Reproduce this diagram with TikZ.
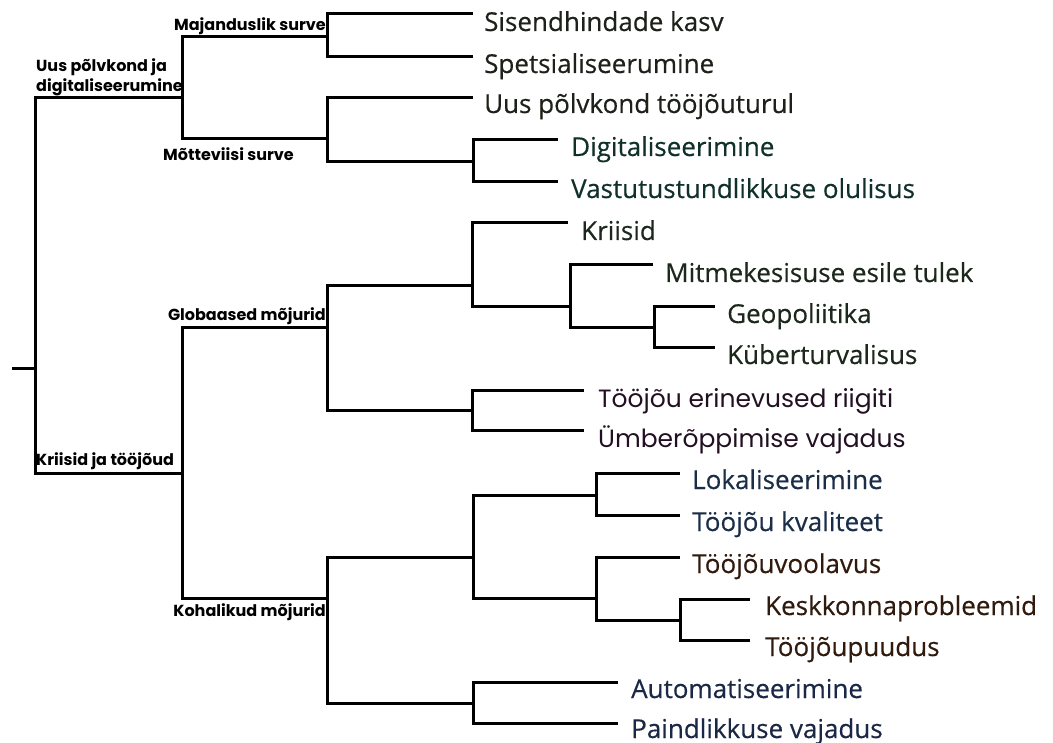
\documentclass[tikz,border=0pt]{standalone}
\usepackage{fontspec}
\setmainfont{Open Sans}[FakeBold=0.4]
\newfontfamily\geofont{Poppins}
\usetikzlibrary{positioning}
\definecolor{leafdark}{RGB}{30,33,25}
\definecolor{digteal}{RGB}{16,48,42}
\definecolor{crisisgreen}{RGB}{28,40,28}
\definecolor{workpurple}{RGB}{34,16,34}
\definecolor{localblue}{RGB}{26,46,72}
\definecolor{envbrown}{RGB}{48,26,14}
\definecolor{autonavy}{RGB}{26,40,70}
\begin{document}
\begin{tikzpicture}[
        x=1pt, y=-1pt,
        branch/.style={draw=black, line width=3pt, line join=miter},
        leaf/.style={font=\fontsize{26}{28}\selectfont, inner sep=1pt, text=#1},
        leaf/.default=leafdark,
        geoleaf/.style={leaf=#1, font=\geofont\fontsize{25}{28}\selectfont},
        lab/.style={font=\geofont\bfseries\fontsize{16}{20}\selectfont, inner sep=1pt, align=left}
    ]
        \useasboundingbox (0,0) rectangle (1053,743);

        % junctions
        \coordinate (stub) at (12,369);
        \coordinate (root) at (35,369);
        \coordinate (j-uus) at (182,98);
        \coordinate (j-maj) at (327,37);
        \coordinate (j-mot) at (327,139);
        \coordinate (j-dig) at (473,162);
        \coordinate (j-kr) at (182,473);
        \coordinate (j-glo) at (327,328);
        \coordinate (j-gla) at (472,286);
        \coordinate (j-glb) at (570,307);
        \coordinate (j-glc) at (654,328);
        \coordinate (j-gld) at (472,411);
        \coordinate (j-koh) at (327,598);
        \coordinate (j-kha) at (473,557);
        \coordinate (j-khb) at (596,495);
        \coordinate (j-khc) at (596,598);
        \coordinate (j-khd) at (680,620);
        \coordinate (j-khe) at (473,703);

        % leaf ends
        \coordinate (e-sis) at (473,14);
        \coordinate (e-spe) at (473,57);
        \coordinate (e-uus) at (473,98);
        \coordinate (e-dig) at (558,140);
        \coordinate (e-vas) at (558,182);
        \coordinate (e-kri) at (568,223);
        \coordinate (e-mit) at (653,265);
        \coordinate (e-geo) at (715,307);
        \coordinate (e-kyb) at (715,348);
        \coordinate (e-ter) at (584,391);
        \coordinate (e-umb) at (584,431);
        \coordinate (e-lok) at (680,473);
        \coordinate (e-kva) at (680,515);
        \coordinate (e-voo) at (680,557);
        \coordinate (e-kes) at (750,599);
        \coordinate (e-puu) at (750,640);
        \coordinate (e-aut) at (618,682);
        \coordinate (e-pai) at (618,723);

        \node[leaf, base right=10pt of e-sis, yshift=-17pt] (sis) {Sisendhindade kasv};
        \node[leaf, base right=10pt of e-spe, yshift=-16pt] (spe) {Spetsialiseerumine};
        \node[leaf, base right=10pt of e-uus, yshift=-15pt] (uus) {Uus põlvkond tööjõuturul};
        \node[leaf=digteal, base right=12pt of e-dig, yshift=-16pt] (dig) {Digitaliseerimine};
        \node[leaf=digteal, base right=12pt of e-vas, yshift=-16pt] (vas) {Vastutustundlikkuse olulisus};
        \node[leaf=crisisgreen, base right=12pt of e-kri, yshift=-17pt] (kri) {Kriisid};
        \node[leaf=crisisgreen, base right=11pt of e-mit, yshift=-17pt] (mit) {Mitmekesisuse esile tulek};
        \node[leaf=crisisgreen, base right=11pt of e-geo, yshift=-16pt] (geo) {Geopoliitika};
        \node[leaf=crisisgreen, base right=11pt of e-kyb, yshift=-16pt] (kyb) {Küberturvalisus};
        \node[geoleaf=workpurple, base right=13pt of e-ter, yshift=-16pt] (ter) {Tööjõu erinevused riigiti};
        \node[geoleaf=workpurple, base right=13pt of e-umb, yshift=-16pt] (umb) {Ümberõppimise vajadus};
        \node[leaf=localblue, base right=11pt of e-lok, yshift=-16pt] (lok) {Lokaliseerimine};
        \node[leaf=localblue, base right=11pt of e-kva, yshift=-16pt] (kva) {Tööjõu kvaliteet};
        \node[leaf=envbrown, base right=11pt of e-voo, yshift=-16pt] (voo) {Tööjõuvoolavus};
        \node[leaf=envbrown, base right=14pt of e-kes, yshift=-16pt] (kes) {Keskkonnaprobleemid};
        \node[leaf=envbrown, base right=14pt of e-puu, yshift=-16pt] (puu) {Tööjõupuudus};
        \node[leaf=autonavy, base right=12pt of e-aut, yshift=-16pt] (aut) {Automatiseerimine};
        \node[leaf=autonavy, base right=12pt of e-pai, yshift=-15pt] (pai) {Paindlikkuse vajadus};

        \node[lab, anchor=south east, yshift=1pt] (l-maj) at (j-maj) {Majanduslik surve};
        \node[lab, anchor=south west, yshift=1pt] (l-uus) at (root |- j-uus) {Uus põlvkond ja\\digitaliseerumine};
        \node[lab, anchor=north east, xshift=-32pt, yshift=-7pt] (l-mot) at (j-mot) {Mõtteviisi surve};
        \node[lab, anchor=south east, yshift=2pt] (l-glo) at (j-glo) {Globaased mõjurid};
        \node[lab, anchor=south west, yshift=2pt] (l-kr) at (root |- j-kr) {Kriisid ja tööjõud};
        \node[lab, anchor=north east, yshift=-4pt] (l-koh) at (j-koh) {Kohalikud mõjurid};

        \draw[branch] (stub) -- (root);
        \draw[branch] (root) |- (j-uus);
        \draw[branch] (root) |- (j-kr);
        \draw[branch] (j-uus) |- (j-maj);
        \draw[branch] (j-uus) |- (j-mot);
        \draw[branch] (j-maj) |- (e-sis);
        \draw[branch] (j-maj) |- (e-spe);
        \draw[branch] (j-mot) |- (e-uus);
        \draw[branch] (j-mot) |- (j-dig);
        \draw[branch] (j-dig) |- (e-dig);
        \draw[branch] (j-dig) |- (e-vas);
        \draw[branch] (j-kr) |- (j-glo);
        \draw[branch] (j-kr) |- (j-koh);
        \draw[branch] (j-glo) |- (j-gla);
        \draw[branch] (j-glo) |- (j-gld);
        \draw[branch] (j-gla) |- (e-kri);
        \draw[branch] (j-gla) |- (j-glb);
        \draw[branch] (j-glb) |- (e-mit);
        \draw[branch] (j-glb) |- (j-glc);
        \draw[branch] (j-glc) |- (e-geo);
        \draw[branch] (j-glc) |- (e-kyb);
        \draw[branch] (j-gld) |- (e-ter);
        \draw[branch] (j-gld) |- (e-umb);
        \draw[branch] (j-koh) |- (j-kha);
        \draw[branch] (j-koh) |- (j-khe);
        \draw[branch] (j-kha) |- (j-khb);
        \draw[branch] (j-kha) |- (j-khc);
        \draw[branch] (j-khb) |- (e-lok);
        \draw[branch] (j-khb) |- (e-kva);
        \draw[branch] (j-khc) |- (e-voo);
        \draw[branch] (j-khc) |- (j-khd);
        \draw[branch] (j-khd) |- (e-kes);
        \draw[branch] (j-khd) |- (e-puu);
        \draw[branch] (j-khe) |- (e-aut);
        \draw[branch] (j-khe) |- (e-pai);
    \end{tikzpicture}
\end{document}
